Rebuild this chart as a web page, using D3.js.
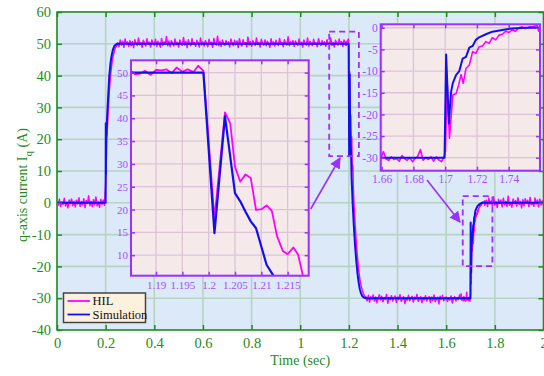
<!DOCTYPE html>
<html>
<head>
<meta charset="utf-8">
<script src="https://cdn.jsdelivr.net/npm/d3@7"></script>
<style>
  body { margin: 0; background: #fff; }
  svg { display: block; }
  text { font-family: "Liberation Serif", "Times New Roman", serif; }
</style>
</head>
<body>
<div id="chart"></div>
<script>
// tick values
const xTicks = [0, 0.2, 0.4, 0.6, 0.8, 1, 1.2, 1.4, 1.6, 1.8, 2];
const yTicks = [-40, -30, -20, -10, 0, 10, 20, 30, 40, 50, 60];
const zoom1XTicks = [1.19, 1.195, 1.2, 1.205, 1.21, 1.215];
const zoom1YTicks = [10, 15, 20, 25, 30, 35, 40, 45, 50];
const zoom2XTicks = [1.66, 1.68, 1.7, 1.72, 1.74];
const zoom2YTicks = [-30, -25, -20, -15, -10, -5, 0];

// HIL measurement, sampled every 5 ms outside the zoomed windows
const hilStep = 0.005;
const hilStart1 = 0;
const hilSeg1 = [
  0.6, -0.8, 1.1, -1.2, 0.3, -0.5, 1.4, -1.0, 0.2, -1.6, 0.9, -0.3, 1.2, -0.9, 0.5, -1.3, 0.8, -0.4, 1.6, -1.1,
  0.4, -0.7, 1.3, -1.5, 0.7, -0.2, 2.2, -0.9, 0.5, -1.2, 1.0, -0.6, 1.8, -1.0, 0.3, -1.4, 1.1, -0.5, 0.9, -0.8,
  6, 20, 28, 35, 40, 43.5, 46, 47.5, 48.8, 49.2, 50.3, 49.1, 51.2, 49.6, 50.8, 48.9, 51.5, 49.8, 50.6, 49.2,
  51.0, 49.4, 50.7, 48.8, 51.3, 50.1, 49.5, 51.8, 49.7, 50.4, 48.9, 51.1, 50.2, 49.3, 51.6, 49.9, 50.5, 49.0, 51.2, 50.3,
  49.6, 51.4, 49.2, 50.8, 50.0, 48.9, 51.7, 49.5, 50.6, 49.8, 52.3, 49.4, 50.9, 49.1, 51.0, 50.2, 49.3, 51.5, 49.7, 50.5,
  49.0, 51.2, 50.1, 49.5, 52.0, 49.6, 50.7, 48.8, 51.3, 50.0, 49.4, 51.6, 49.9, 50.4, 49.2, 51.1, 50.3, 49.0, 51.8, 49.7,
  50.6, 49.3, 51.0, 50.2, 49.1, 51.4, 49.8, 50.5, 48.9, 51.7, 50.0, 49.6, 52.4, 49.4, 50.8, 49.2, 51.2, 50.1, 49.5, 51.0,
  49.8, 50.6, 49.0, 51.5, 50.2, 49.4, 51.1, 49.7, 50.9, 48.8, 51.6, 50.0, 49.3, 51.3, 49.9, 50.4, 49.1, 52.1, 49.6, 50.7,
  49.2, 51.0, 50.3, 49.5, 51.8, 49.8, 50.5, 49.0, 51.4, 50.1, 49.6, 51.2, 49.4, 50.8, 50.0, 48.9, 51.6, 49.7, 50.6, 49.3,
  51.1, 50.0, 49.5, 51.7, 49.8, 50.4, 49.1, 51.3, 50.2, 49.6, 52.2, 49.4, 50.7, 49.9, 51.0, 49.2, 50.9, 50.1, 49.5, 51.5,
  49.7, 50.5, 49.0, 51.2, 50.0, 49.6, 51.8, 49.3, 50.8, 50.1, 49.4, 51.4, 49.9, 50.3, 49.1, 51.6, 50.2, 49.5, 51.0, 49.8,
  50.6, 49.2, 51.3, 50.0, 49.7, 51.9, 49.5, 50.4, 49.0, 51.1, 50.3, 49.6, 51.5, 49.8, 50.7, 49.2, 51.2
];
const hilStart2 = 1.22;
const hilSeg2 = [
  1.0, -6, -12, -17, -21, -24, -26, -27.5, -28.6, -29.3, -29.6, -30.8, -29.1, -31.2, -29.5, -30.4,
  -29.0, -30.9, -29.6, -31.4, -30.1, -28.9, -30.6, -29.4, -31.1, -29.8, -30.3, -28.8, -31.6, -29.7, -30.5, -29.2, -30.9, -30.0, -29.3, -31.3,
  -29.6, -30.4, -28.9, -31.0, -30.2, -29.5, -31.7, -29.9, -30.6, -29.1, -30.8, -30.0, -29.4, -31.2, -29.7, -30.3, -28.8, -31.0, -30.1, -29.5,
  -31.4, -29.8, -30.5, -29.2, -30.9, -30.0, -29.5, -31.3, -29.6, -30.7, -29.0, -31.1, -30.2, -29.7, -31.8, -29.4, -30.4, -29.1, -30.8, -30.1,
  -29.6, -31.0, -29.9, -30.6, -29.3, -31.5, -30.0, -29.5, -30.9, -29.8, -30.4, -29.0
];
const hilStart3 = 1.765;
const hilSeg3 = [
  0.8, -1.2, 1.5, -0.4, 0.6, -1.0, 1.9, -0.7, 0.3, -1.5, 1.1, -0.2, 0.9, -1.3, 1.4, -0.6, 0.5, -1.1, 2.1, -0.8,
  0.2, -1.4, 1.2, -0.3, 0.7, -1.0, 1.6, -0.5, 0.4, -1.6, 1.0, -0.9, 1.3, -0.2, 0.8, -1.2, 1.7, -0.6, 0.1, -1.1,
  1.5, -0.4, 0.9, -1.3, 1.2, -0.7, 0.6, -0.9
];
// HIL inside the zoomed windows [time, value]
const hilZoom1 = [
  [1.18525, 50.4], [1.1860, 49.6], [1.1870, 49.8], [1.1879, 50.4], [1.1890, 49.5], [1.1900, 50.6],
  [1.1911, 50.5], [1.1920, 50.7], [1.1930, 49.9], [1.1939, 51.1], [1.1950, 50.2], [1.1960, 50.7],
  [1.1971, 50.1], [1.1980, 51.5], [1.1990, 50.4], [1.2011, 18], [1.2031, 41.3], [1.2041, 38.9],
  [1.2050, 29.4], [1.2060, 26.1], [1.2070, 27.7], [1.2080, 26.9], [1.2090, 19.9], [1.2101, 20.1],
  [1.2110, 20.9], [1.2120, 19.7], [1.2130, 14.1], [1.2141, 10.9], [1.2150, 10.2], [1.2161, 11.7],
  [1.2170, 10.1], [1.2179, 5.5], [1.2190, 3.0]
];
const hilZoom2 = [
  [1.6594, -30.2], [1.6611, -28.6], [1.6628, -30.3], [1.6644, -30.6], [1.6661, -29.8], [1.6678, -30.4],
  [1.6694, -30.2], [1.6711, -30.8], [1.6728, -29.5], [1.6744, -30.2], [1.6761, -30.6], [1.6777, -30.0],
  [1.6794, -30.9], [1.6811, -30.2], [1.6827, -29.7], [1.6844, -28.1], [1.6861, -30.6], [1.6877, -30.0],
  [1.6894, -30.4], [1.6911, -29.8], [1.6927, -30.8], [1.6944, -29.8], [1.6960, -30.5], [1.6977, -30.9],
  [1.6990, -30.0], [1.7002, -28.5], [1.7012, -12], [1.7027, -25.5], [1.7048, -15.5], [1.7069, -15.2],
  [1.7085, -13.2], [1.7100, -10.8], [1.7114, -12.8], [1.7131, -9.4], [1.7152, -8.6], [1.7173, -5.5],
  [1.7193, -5.9], [1.7214, -4.4], [1.7235, -4.2], [1.7256, -3.2], [1.7277, -3.6], [1.7297, -2.3],
  [1.7318, -2.8], [1.7339, -1.7], [1.7360, -1.5], [1.7381, -0.8], [1.7401, -1.1], [1.7422, -0.5],
  [1.7443, -0.8], [1.7464, 0], [1.7485, 0.2], [1.7505, -0.2], [1.7526, 0.15], [1.7557, 0.3],
  [1.7578, 0.6], [1.7589, -0.8]
];

// Simulation [time, value]
const simMain1 = [
  [0, 0], [0.2, 0], [0.2006, 25], [0.2012, 9], [0.2018, 24], [0.203, 21], [0.206, 27], [0.21, 33],
  [0.215, 40], [0.22, 44], [0.225, 46.5], [0.23, 48.2], [0.235, 49.2], [0.24, 49.7], [0.25, 50], [1.185, 50]
];
const simZoom1 = [
  [1.18525, 50], [1.199, 50], [1.2011, 14.8], [1.2031, 40.4], [1.205, 23.6], [1.206, 21.8], [1.207, 19.5],
  [1.208, 17.4], [1.209, 15.9], [1.210, 11.9], [1.211, 7.9], [1.2123, 5.5], [1.2135, 3.5]
];
const simMain2 = [
  [1.215, 0.5], [1.22, -7], [1.225, -13], [1.23, -18], [1.235, -22], [1.24, -25], [1.245, -27.2],
  [1.25, -28.5], [1.255, -29.3], [1.26, -29.7], [1.27, -30], [1.655, -30]
];
const simZoom2 = [
  [1.6594, -30], [1.6996, -30], [1.7006, -6.2], [1.7023, -22.1], [1.7037, -14.8], [1.7048, -12.8],
  [1.7069, -10.9], [1.7089, -10], [1.711, -7.1], [1.7131, -6.7], [1.7152, -4.6], [1.7173, -4.2],
  [1.7193, -2.8], [1.7214, -2.2], [1.7256, -1.5], [1.7297, -0.9], [1.736, -0.5], [1.7422, -0.15],
  [1.7505, 0], [1.76, 0]
];
const simMain3 = [[1.765, 0], [2, 0]];

// zoomed regions marked on the main plot [t0, t1, v0, v1]
const box1 = [1.119, 1.241, 14.7, 53.8];
const box2 = [1.668, 1.790, -19.9, 2.1];

const seg = (start, vals) => vals.map((v, i) => [start + i * hilStep, v]);
const hil = seg(hilStart1, hilSeg1).concat(hilZoom1, seg(hilStart2, hilSeg2), hilZoom2, seg(hilStart3, hilSeg3));
const sim = simMain1.concat(simZoom1, simMain2, simZoom2, simMain3);

const GREEN = '#1e8c1e', PURPLE = '#9b30ff', PURPLE_TXT = '#a64dff';
const HIL_C = '#ff00ff', SIM_C = '#1010ee';

const svg = d3.select('#chart').append('svg').attr('width', 544).attr('height', 376);
const defs = svg.append('defs');

let clipId = 0;
function panel(x, y, o) {
  const [x0, x1] = x.range(), [y0, y1] = y.range();
  const id = 'clip' + (clipId++);
  defs.append('clipPath').attr('id', id)
    .append('rect').attr('x', x0).attr('y', y1).attr('width', x1 - x0).attr('height', y0 - y1);
  const g = svg.append('g');
  g.append('rect').attr('x', x0).attr('y', y1).attr('width', x1 - x0).attr('height', y0 - y1).attr('fill', o.bg);

  // grid
  g.append('g').selectAll('line').data(o.xt).enter().append('line')
    .attr('x1', d => x(d)).attr('x2', d => x(d)).attr('y1', y1).attr('y2', y0)
    .attr('stroke', o.grid).attr('stroke-width', o.gridW);
  g.append('g').selectAll('line').data(o.yt).enter().append('line')
    .attr('y1', d => y(d)).attr('y2', d => y(d)).attr('x1', x0).attr('x2', x1)
    .attr('stroke', o.grid).attr('stroke-width', o.gridW);

  // series
  const line = d3.line().x(d => x(d[0])).y(d => y(d[1]));
  const lines = g.append('g').attr('clip-path', `url(#${id})`);
  lines.append('path').datum(hil).attr('d', line).attr('fill', 'none')
    .attr('stroke', HIL_C).attr('stroke-width', o.hilW).attr('stroke-linejoin', 'round');
  lines.append('path').datum(sim).attr('d', line).attr('fill', 'none')
    .attr('stroke', SIM_C).attr('stroke-width', o.simW).attr('stroke-linejoin', 'round');

  // axes: labels on bottom / left, inward ticks on every side
  const fmt = d => String(d);
  const axes = [
    g.append('g').attr('transform', `translate(0,${y0})`)
      .call(d3.axisBottom(x).tickValues(o.xt).tickSize(-o.tick).tickPadding(o.padX).tickFormat(fmt)),
    g.append('g').attr('transform', `translate(${x0},0)`)
      .call(d3.axisLeft(y).tickValues(o.yt).tickSize(-o.tick).tickPadding(o.padY).tickFormat(fmt)),
    g.append('g').attr('transform', `translate(0,${y1})`)
      .call(d3.axisTop(x).tickValues(o.xt).tickSize(-o.tick).tickFormat('')),
    g.append('g').attr('transform', `translate(${x1},0)`)
      .call(d3.axisRight(y).tickValues(o.yt).tickSize(-o.tick).tickFormat(''))
  ];
  axes.forEach(a => {
    a.select('.domain').remove();
    a.selectAll('line').attr('stroke', o.axis).attr('stroke-width', 1.5);
    a.selectAll('text').attr('fill', o.text).attr('font-size', o.font)
      .attr('font-family', '"Liberation Serif", "Times New Roman", serif');
  });
  g.append('rect').attr('x', x0).attr('y', y1).attr('width', x1 - x0).attr('height', y0 - y1)
    .attr('fill', 'none').attr('stroke', o.axis).attr('stroke-width', o.frameW);
  return g;
}

// main plot
const x = d3.scaleLinear().domain([0, 2]).range([57, 543.5]);
const y = d3.scaleLinear().domain([-40, 60]).range([330, 12]);
panel(x, y, {
  bg: '#dce9f8', grid: '#b7d3c3', gridW: 1.6, axis: GREEN, text: GREEN, frameW: 1.5,
  xt: xTicks, yt: yTicks, tick: 5, padX: 8, padY: 6, font: '14.5px', hilW: 1.5, simW: 2
});

svg.append('text').attr('x', x(1)).attr('y', 365).attr('text-anchor', 'middle')
  .attr('fill', GREEN).attr('font-size', '14px').text('Time (sec)');
const yl = svg.append('text').attr('transform', 'translate(27,185) rotate(-90)')
  .attr('text-anchor', 'middle').attr('fill', GREEN).attr('font-size', '14px');
yl.append('tspan').text('q-axis current I');
yl.append('tspan').attr('dy', 5).attr('font-size', '11px').text('q');
yl.append('tspan').attr('dy', -5).text(' (A)');

// zoom markers
[box1, box2].forEach(b => {
  svg.append('rect').attr('x', x(b[0])).attr('y', y(b[3]))
    .attr('width', x(b[1]) - x(b[0])).attr('height', y(b[2]) - y(b[3]))
    .attr('fill', 'none').attr('stroke', PURPLE).attr('stroke-width', 1.8).attr('stroke-dasharray', '6,4');
});

// inset 1
const x1s = d3.scaleLinear().domain([1.18525, 1.219]).range([131, 308.7]);
const y1s = d3.scaleLinear().domain([5.5, 52.7]).range([275.7, 60.3]);
panel(x1s, y1s, {
  bg: '#f5e9ea', grid: '#dcc3d8', gridW: 1.3, axis: PURPLE, text: PURPLE_TXT, frameW: 2,
  xt: zoom1XTicks, yt: zoom1YTicks, tick: 4, padX: 6, padY: 3, font: '11px', hilW: 1.8, simW: 2.2
});

// inset 2
const x2s = d3.scaleLinear().domain([1.6594, 1.7597]).range([380.7, 540]);
const y2s = d3.scaleLinear().domain([-33, 0.8]).range([170.7, 24.3]);
panel(x2s, y2s, {
  bg: '#f5e9ea', grid: '#dcc3d8', gridW: 1.3, axis: PURPLE, text: PURPLE_TXT, frameW: 2,
  xt: zoom2XTicks, yt: zoom2YTicks, tick: 4, padX: 4, padY: 3, font: '11.5px', hilW: 1.6, simW: 2
});

// arrows
defs.append('marker').attr('id', 'arrow').attr('viewBox', '0 0 10 10')
  .attr('refX', 9).attr('refY', 5).attr('markerWidth', 7).attr('markerHeight', 7)
  .attr('orient', 'auto')
  .append('path').attr('d', 'M0,0 L10,5 L0,10 z').attr('fill', PURPLE);
[[310.7, 209, 340, 158], [427, 180, 460, 222]].forEach(a => {
  svg.append('line').attr('x1', a[0]).attr('y1', a[1]).attr('x2', a[2]).attr('y2', a[3])
    .attr('stroke', PURPLE).attr('stroke-width', 1.6).attr('marker-end', 'url(#arrow)');
});

// legend
const lg = svg.append('g');
lg.append('rect').attr('x', 63.5).attr('y', 293).attr('width', 82).attr('height', 29.5)
  .attr('fill', '#fdf0dc').attr('stroke', '#444').attr('stroke-width', 1.5);
[['HIL', HIL_C, 301], ['Simulation', SIM_C, 314.5]].forEach(e => {
  lg.append('line').attr('x1', 67.5).attr('x2', 90).attr('y1', e[2]).attr('y2', e[2])
    .attr('stroke', e[1]).attr('stroke-width', 1.8);
  lg.append('text').attr('x', 92.5).attr('y', e[2] + 4).attr('font-size', '12.5px')
    .attr('fill', '#111').text(e[0]);
});
</script>
</body>
</html>
